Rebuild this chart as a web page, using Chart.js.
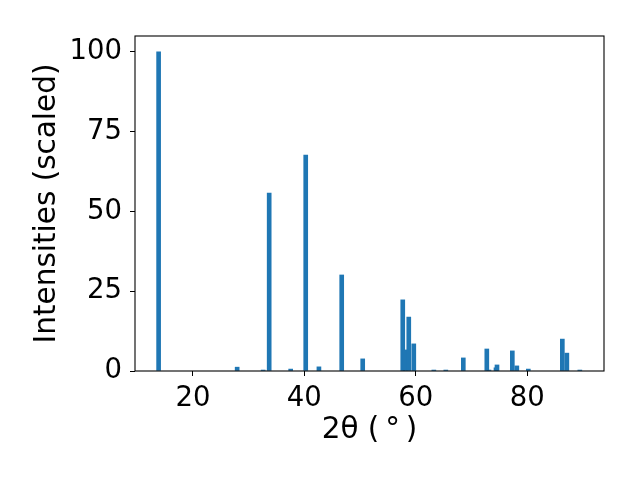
<!DOCTYPE html>
<html>
<head>
<meta charset="utf-8">
<script src="https://cdn.jsdelivr.net/npm/chart.js@4/dist/chart.umd.min.js"></script>
<style>
  html, body { margin: 0; padding: 0; background: #fff; }
  #wrap { width: 640px; height: 480px; }
</style>
</head>
<body>
<div id="wrap"><canvas id="xrd" width="640" height="480"></canvas></div>
<script>
// peak positions (2theta, deg) and scaled intensities
const twoTheta = [13.84, 27.94, 32.61, 33.69, 37.55, 40.25, 42.62, 46.71, 50.48,
  57.67, 58.10, 58.75, 59.65, 63.25, 65.40, 68.54, 72.76, 73.15, 74.41, 74.59,
  77.34, 78.15, 80.21, 86.32, 87.13, 89.46];
const intensity = [100, 1.2, 0.3, 55.8, 0.6, 67.7, 1.3, 30.1, 3.8,
  22.3, 6.6, 16.9, 8.5, 0.3, 0.3, 4.1, 6.9, 0.3, 1.0, 1.9,
  6.3, 1.6, 0.6, 10.0, 5.6, 0.3];
const xTicks = [20, 40, 60, 80];
const yTicks = [0, 25, 50, 75, 100];

const FONT = 'DejaVu Sans';
const BLUE = '#1f77b4';
const TICK_SIZE = 27.5;
const LABEL_SIZE = 29.5;

// matplotlib style box round the axes
const frame = {
  id: 'frame',
  afterDraw(c) {
    const a = c.chartArea, ctx = c.ctx;
    ctx.save();
    ctx.strokeStyle = '#000';
    ctx.lineWidth = 1.1;
    ctx.strokeRect(a.left, a.top, a.right - a.left, a.bottom - a.top);
    ctx.restore();
  }
};

new Chart(document.getElementById('xrd').getContext('2d'), {
  type: 'bar',
  data: {
    datasets: [{
      data: twoTheta.map((t, i) => ({ x: t, y: intensity[i] })),
      backgroundColor: BLUE,
      borderWidth: 0,
      barThickness: 4,
    }],
  },
  options: {
    responsive: false,
    animation: false,
    layout: { padding: { left: 0, top: 36, right: 36, bottom: 0 } },
    plugins: { legend: { display: false }, tooltip: { enabled: false } },
    scales: {
      x: {
        type: 'linear',
        offset: false,
        min: 9.6,
        max: 93.8,
        afterBuildTicks: (s) => { s.ticks = xTicks.map(v => ({ value: v })); },
        afterFit: (s) => { s.height = 109; },
        ticks: { color: '#000', padding: 6, maxRotation: 0, font: { family: FONT, size: TICK_SIZE } },
        grid: { display: true, offset: false, drawOnChartArea: false, tickLength: 5, color: '#000' },
        border: { display: false },
        title: {
          display: true, text: '2θ (\u2009°\u2009)', color: '#000',
          font: { family: FONT, size: LABEL_SIZE }, padding: { top: 0, bottom: 32 },
        },
      },
      y: {
        min: 0,
        max: 105,
        afterBuildTicks: (s) => { s.ticks = yTicks.map(v => ({ value: v })); },
        afterFit: (s) => { s.width = 135; },
        ticks: { color: '#000', padding: 8, font: { family: FONT, size: TICK_SIZE } },
        grid: { display: true, drawOnChartArea: false, tickLength: 5, color: '#000' },
        border: { display: false },
        title: {
          display: true, text: 'Intensities (scaled)', color: '#000',
          font: { family: FONT, size: LABEL_SIZE }, padding: { top: 30, bottom: 0 },
        },
      },
    },
  },
  plugins: [frame],
});
</script>
</body>
</html>
